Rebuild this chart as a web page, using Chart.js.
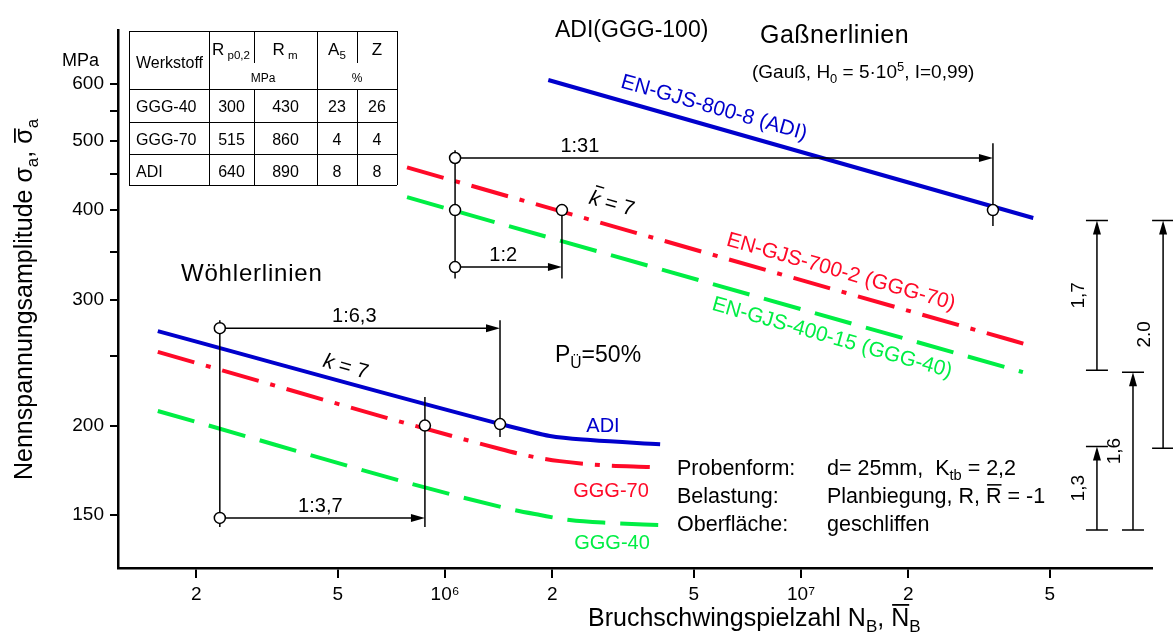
<!DOCTYPE html>
<html>
<head>
<meta charset="utf-8">
<script src="https://cdn.jsdelivr.net/npm/chart.js@4/dist/chart.umd.min.js"></script>
<style>
  html, body { margin: 0; background: #fff; }
</style>
</head>
<body>
<canvas id="chart" width="1173" height="639"></canvas>
<script>
// Data (cycles N_B, stress amplitude in MPa)

// Wöhler lines, P_Ü = 50 %
const woehlerADICycles = [1.56e5, 1.43e6, 1.68e6, 1.97e6, 2.56e6, 4.02e6];
const woehlerADIStress = [271, 201, 197, 193.4, 190.9, 188.4];
const woehlerGGG70Cycles = [1.56e5, 1.43e6, 1.73e6, 2.10e6, 2.72e6, 3.77e6];
const woehlerGGG70Stress = [253.5, 185.5, 181.3, 178.4, 176.2, 175.1];
const woehlerGGG40Cycles = [1.56e5, 1.52e6, 1.85e6, 2.24e6, 2.91e6, 4.02e6];
const woehlerGGG40Stress = [209.6, 152.9, 150, 147.6, 146.2, 145.2];

// Gaßner lines
const gassnerADICycles = [1.95e6, 4.49e7];
const gassnerADIStress = [608, 390];
const gassnerGGG70Cycles = [7.82e5, 4.49e7];
const gassnerGGG70Stress = [459, 258];
const gassnerGGG40Cycles = [7.82e5, 4.2e7];
const gassnerGGG40Stress = [417, 237.5];

// ratio arrows (1:x) between lines
const ratioLabels = ['1:31', '1:2', '1:6,3', '1:3,7'];
const ratioFrom = [1.067e6, 1.067e6, 2.33e5, 2.33e5];
const ratioTo = [3.46e7, 2.13e6, 1.427e6, 8.78e5];
const ratioLevel = [473, 333, 273.6, 148.6];

// vertical guide lines
const guideCycles = [1.067e6, 2.13e6, 3.46e7, 2.33e5, 1.427e6, 8.78e5];
const guideTop = [485, 408, 496, 280.7, 280.7, 219.2];
const guideBottom = [321, 321, 380, 144.3, 192.8, 144.3];

// small circles
const circleCycles = [1.067e6, 1.067e6, 1.067e6, 2.13e6, 3.46e7, 2.33e5, 2.33e5, 1.427e6, 8.78e5];
const circleStress = [473, 400, 333, 400, 400, 273.6, 148.6, 201, 200];

// stress ratio bars on the right
const bandLabels = ['1,7', '2.0', '1,6', '1,3'];
const bandCycles = [6.78e7, 1.04e8, 8.56e7, 6.78e7];
const bandLow = [239, 186, 143, 143];
const bandHigh = [387, 387, 237.5, 187];

// material table
const materials = ['GGG-40', 'GGG-70', 'ADI'];
const rp02 = [300, 515, 640];
const rm = [430, 860, 890];
const a5 = [23, 4, 8];
const zValues = [26, 4, 8];

// ticks
const xTickValues = [2e5, 5e5, 1e6, 2e6, 5e6, 1e7, 2e7, 5e7];
const xTickLabels = ['2', '5', '10\u2076', '2', '5', '10\u2077', '2', '5'];
const yTickValues = [150, 200, 250, 300, 350, 400, 450, 500, 550, 600];
const yTickLabels = ['150', '200', '', '300', '', '400', '', '500', '', '600'];

const BLUE = '#0000cc';
const RED = '#ff0a28';
const GREEN = '#00ee44';
const FONT = '"Liberation Sans", Arial, Helvetica, sans-serif';

Chart.defaults.font.family = FONT;
Chart.defaults.color = '#000';

function toPoints(xs, ys) {
    return xs.map((x, i) => ({ x: x, y: ys[i] }));
}

function line(xs, ys, color, dash) {
    return {
        data: toPoints(xs, ys),
        borderColor: color,
        borderWidth: 4,
        borderDash: dash,
        borderCapStyle: 'butt',
        pointRadius: 0,
        cubicInterpolationMode: 'monotone',
        fill: false
    };
}

// text with sub/superscripts, overbars and italics
function richText(ctx, parts, x, y, size, align) {
    const segs = parts.map(([t, k]) => {
        const s = (k === 'sub' || k === 'sup') ? size * 0.68 : size;
        ctx.font = (k === 'it' || k === 'itbar' ? 'italic ' : '') + s + 'px ' + FONT;
        return { t, k, s, w: ctx.measureText(t).width };
    });
    const total = segs.reduce((a, b) => a + b.w, 0);
    let cx = align === 'center' ? x - total / 2 : align === 'right' ? x - total : x;
    ctx.textAlign = 'left';
    segs.forEach(p => {
        ctx.font = (p.k === 'it' || p.k === 'itbar' ? 'italic ' : '') + p.s + 'px ' + FONT;
        const dy = p.k === 'sub' ? size * 0.25 : p.k === 'sup' ? -size * 0.38 : 0;
        ctx.fillText(p.t, cx, y + dy);
        if (p.k === 'bar') {
            ctx.fillRect(cx + 1, y - size * 0.88, p.w - 1, Math.max(1, size / 14));
        }
        if (p.k === 'itbar') {
            ctx.fillRect(cx + 3, y - size * 0.95, p.w - 2, Math.max(1, size / 14));
        }
        if (p.k === 'barlow') {
            ctx.fillRect(cx + 1, y - size * 0.72, p.w - 1, Math.max(1, size / 14));
        }
        cx += p.w;
    });
}

function arrowHead(ctx, x, y, dir) {
    // dir: 'right' or 'up'
    ctx.beginPath();
    if (dir === 'right') {
        ctx.moveTo(x, y);
        ctx.lineTo(x - 14, y - 4);
        ctx.lineTo(x - 14, y + 4);
    } else {
        ctx.moveTo(x, y);
        ctx.lineTo(x - 4, y + 14);
        ctx.lineTo(x + 4, y + 14);
    }
    ctx.closePath();
    ctx.fill();
}

const overlay = {
    id: 'overlay',
    afterDraw(chart) {
        const ctx = chart.ctx;
        const xs = chart.scales.x;
        const ys = chart.scales.y;
        const px = v => xs.getPixelForValue(v);
        const py = v => ys.getPixelForValue(v);
        ctx.save();
        ctx.strokeStyle = '#000';
        ctx.fillStyle = '#000';
        ctx.lineWidth = 1.5;
        ctx.textBaseline = 'alphabetic';

        // guide lines
        guideCycles.forEach((n, i) => {
            ctx.beginPath();
            ctx.moveTo(px(n), py(guideTop[i]));
            ctx.lineTo(px(n), py(guideBottom[i]));
            ctx.stroke();
        });

        // ratio arrows
        const fracs = [0.232, 0.45, 0.48, 0.49];
        ratioLabels.forEach((lab, i) => {
            const x1 = px(ratioFrom[i]), x2 = px(ratioTo[i]), yy = py(ratioLevel[i]);
            ctx.beginPath();
            ctx.moveTo(x1, yy);
            ctx.lineTo(x2 - 10, yy);
            ctx.stroke();
            arrowHead(ctx, x2, yy, 'right');
            ctx.font = '20px ' + FONT;
            ctx.textAlign = 'center';
            ctx.fillText(lab, x1 + (x2 - x1) * fracs[i], yy - 6);
        });

        // circles
        circleCycles.forEach((n, i) => {
            ctx.beginPath();
            ctx.arc(px(n), py(circleStress[i]), 5.5, 0, Math.PI * 2);
            ctx.fillStyle = '#fff';
            ctx.fill();
            ctx.stroke();
        });
        ctx.fillStyle = '#000';

        // ratio bars on the right
        bandLabels.forEach((lab, i) => {
            const bx = px(bandCycles[i]), top = py(bandHigh[i]), bot = py(bandLow[i]);
            ctx.beginPath();
            ctx.moveTo(bx, bot);
            ctx.lineTo(bx, top + 10);
            ctx.moveTo(bx - 11, top);
            ctx.lineTo(bx + 11, top);
            ctx.moveTo(bx - 11, bot);
            ctx.lineTo(bx + 11, bot);
            ctx.stroke();
            arrowHead(ctx, bx, top, 'up');
            ctx.save();
            ctx.translate(bx - 13, (top + bot) / 2);
            ctx.rotate(-Math.PI / 2);
            ctx.font = '19px ' + FONT;
            ctx.textAlign = 'center';
            ctx.fillText(lab, 0, 0);
            ctx.restore();
        });

        // labels along lines
        const ang = Math.atan2(py(gassnerADIStress[1]) - py(gassnerADIStress[0]),
                               px(gassnerADICycles[1]) - px(gassnerADICycles[0]));
        const rotated = (txt, cx, cy, color, size) => {
            ctx.save();
            ctx.translate(cx, cy);
            ctx.rotate(ang);
            ctx.fillStyle = color;
            ctx.textBaseline = 'middle';
            richText(ctx, txt, 0, 0, size, 'center');
            ctx.restore();
        };
        rotated([['EN-GJS-800-8 (ADI)', '']], 714, 108, BLUE, 21);
        rotated([['EN-GJS-700-2 (GGG-70)', '']], 841, 272, RED, 21);
        rotated([['EN-GJS-400-15 (GGG-40)', '']], 832, 338, GREEN, 21);
        ctx.save();
        ctx.translate(346, 366);
        ctx.rotate(ang);
        richText(ctx, [['k', 'it'], [' = 7', '']], 0, 7, 21, 'center');
        ctx.restore();
        ctx.save();
        ctx.translate(612, 203);
        ctx.rotate(ang);
        richText(ctx, [['k', 'itbar'], [' = 7', '']], 0, 7, 21, 'center');
        ctx.restore();

        ctx.textBaseline = 'alphabetic';
        ctx.fillStyle = BLUE;
        richText(ctx, [['ADI', '']], 603, 432, 20, 'center');
        ctx.fillStyle = RED;
        richText(ctx, [['GGG-70', '']], 611, 497, 20, 'center');
        ctx.fillStyle = GREEN;
        richText(ctx, [['GGG-40', '']], 612, 549, 20, 'center');

        ctx.fillStyle = '#000';
        richText(ctx, [['ADI(GGG-100)', '']], 555, 37, 23, 'left');
        ctx.letterSpacing = '0.5px';
        richText(ctx, [['Gaßnerlinien', '']], 760, 43, 25, 'left');
        ctx.letterSpacing = '0.8px';
        richText(ctx, [['Wöhlerlinien', '']], 181, 281, 24, 'left');
        ctx.letterSpacing = '0px';
        richText(ctx, [['(Gauß, H', ''], ['0', 'sub'], [' = 5·10', ''], ['5', 'sup'], [', I=0,99)', '']], 752, 78, 19, 'left');
        richText(ctx, [['P', ''], ['Ü', 'sub'], ['=50%', '']], 555, 362, 23, 'left');
        richText(ctx, [['MPa', '']], 62, 66, 18, 'left');

        // test conditions
        const condLeft = ['Probenform:', 'Belastung:', 'Oberfläche:'];
        const condRight = [
            [['d= 25mm,  K', ''], ['tb', 'sub'], [' = 2,2', '']],
            [['Planbiegung, R, ', ''], ['R', 'bar'], [' = -1', '']],
            [['geschliffen', '']]
        ];
        condLeft.forEach((t, i) => {
            const by = 475 + i * 28;
            richText(ctx, [[t, '']], 677, by, 21.5, 'left');
            richText(ctx, condRight[i], 827, by, 21.5, 'left');
        });

        // axis titles
        ctx.save();
        ctx.translate(32, 480);
        ctx.rotate(-Math.PI / 2);
        richText(ctx, [['Nennspannungsamplitude σ', ''], ['a', 'sub'], [', ', ''], ['σ', 'barlow'], ['a', 'sub']], 0, 0, 25, 'left');
        ctx.restore();
        richText(ctx, [['Bruchschwingspielzahl N', ''], ['B', 'sub'], [', ', ''], ['N', 'bar'], ['B', 'sub']], 588, 626, 25, 'left');

        // material table
        const cols = [129, 209, 254, 317, 357, 397];
        const rows = [31, 89, 122, 154, 185];
        ctx.fillStyle = '#fff';
        ctx.fillRect(cols[0], rows[0], cols[5] - cols[0], rows[4] - rows[0]);
        ctx.fillStyle = '#000';
        ctx.lineWidth = 1;
        ctx.beginPath();
        rows.forEach(r => { ctx.moveTo(cols[0], r + 0.5); ctx.lineTo(cols[5], r + 0.5); });
        [0, 1, 3, 5].forEach(c => { ctx.moveTo(cols[c] + 0.5, rows[0]); ctx.lineTo(cols[c] + 0.5, rows[4]); });
        [2, 4].forEach(c => { ctx.moveTo(cols[c] + 0.5, rows[1]); ctx.lineTo(cols[c] + 0.5, rows[4]); });
        [2, 4].forEach(c => { ctx.moveTo(cols[c] + 0.5, rows[0]); ctx.lineTo(cols[c] + 0.5, 63); });
        ctx.stroke();
        richText(ctx, [['Werkstoff', '']], 136, 68, 16, 'left');
        richText(ctx, [['R', ''], [' p0,2', 'sub']], 231, 55, 17, 'center');
        richText(ctx, [['R', ''], [' m', 'sub']], 285, 55, 17, 'center');
        richText(ctx, [['A', ''], ['5', 'sub']], 337, 55, 17, 'center');
        richText(ctx, [['Z', '']], 377, 55, 17, 'center');
        richText(ctx, [['MPa', '']], 263, 82, 12, 'center');
        richText(ctx, [['%', '']], 357, 82, 12, 'center');
        materials.forEach((m, i) => {
            const by = rows[i + 1] + 23;
            richText(ctx, [[m, '']], 136, by, 16, 'left');
            [rp02[i], rm[i], a5[i], zValues[i]].forEach((v, j) => {
                richText(ctx, [[String(v), '']], (cols[j + 1] + cols[j + 2]) / 2, by, 16, 'center');
            });
        });
        ctx.restore();
    }
};

new Chart(document.getElementById('chart'), {
    type: 'line',
    data: {
        datasets: [
            line(woehlerADICycles, woehlerADIStress, BLUE, []),
            line(woehlerGGG70Cycles, woehlerGGG70Stress, RED, [38, 12, 5, 12]),
            line(woehlerGGG40Cycles, woehlerGGG40Stress, GREEN, [38, 15]),
            line(gassnerADICycles, gassnerADIStress, BLUE, []),
            line(gassnerGGG70Cycles, gassnerGGG70Stress, RED, [38, 12, 5, 12]),
            line(gassnerGGG40Cycles, gassnerGGG40Stress, GREEN, [38, 15])
        ]
    },
    options: {
        responsive: false,
        animation: false,
        layout: { padding: { top: 30, right: 21, left: 0, bottom: 0 } },
        plugins: {
            legend: { display: false },
            tooltip: { enabled: false }
        },
        scales: {
            x: {
                type: 'logarithmic',
                min: 1.206e5,
                max: 9.68e7,
                afterBuildTicks: s => { s.ticks = xTickValues.map(v => ({ value: v })); },
                afterFit: s => { s.height = 71; },
                ticks: {
                    autoSkip: false,
                    maxRotation: 0,
                    padding: 5,
                    font: { size: 19 },
                    color: '#000',
                    callback: (v, i) => xTickLabels[i]
                },
                grid: { drawOnChartArea: false, drawTicks: true, tickLength: 10, color: '#000', lineWidth: 2 },
                border: { color: '#000', width: 2.5 }
            },
            y: {
                type: 'logarithmic',
                min: 126.5,
                max: 714,
                afterBuildTicks: s => { s.ticks = yTickValues.map(v => ({ value: v })); },
                afterFit: s => { s.width = 118; },
                ticks: {
                    autoSkip: false,
                    padding: 6,
                    font: { size: 19 },
                    color: '#000',
                    callback: (v, i) => yTickLabels[i]
                },
                grid: { drawOnChartArea: false, drawTicks: true, tickLength: 8, color: '#000', lineWidth: 2 },
                border: { color: '#000', width: 2.5 }
            }
        }
    },
    plugins: [overlay]
});
</script>
</body>
</html>
